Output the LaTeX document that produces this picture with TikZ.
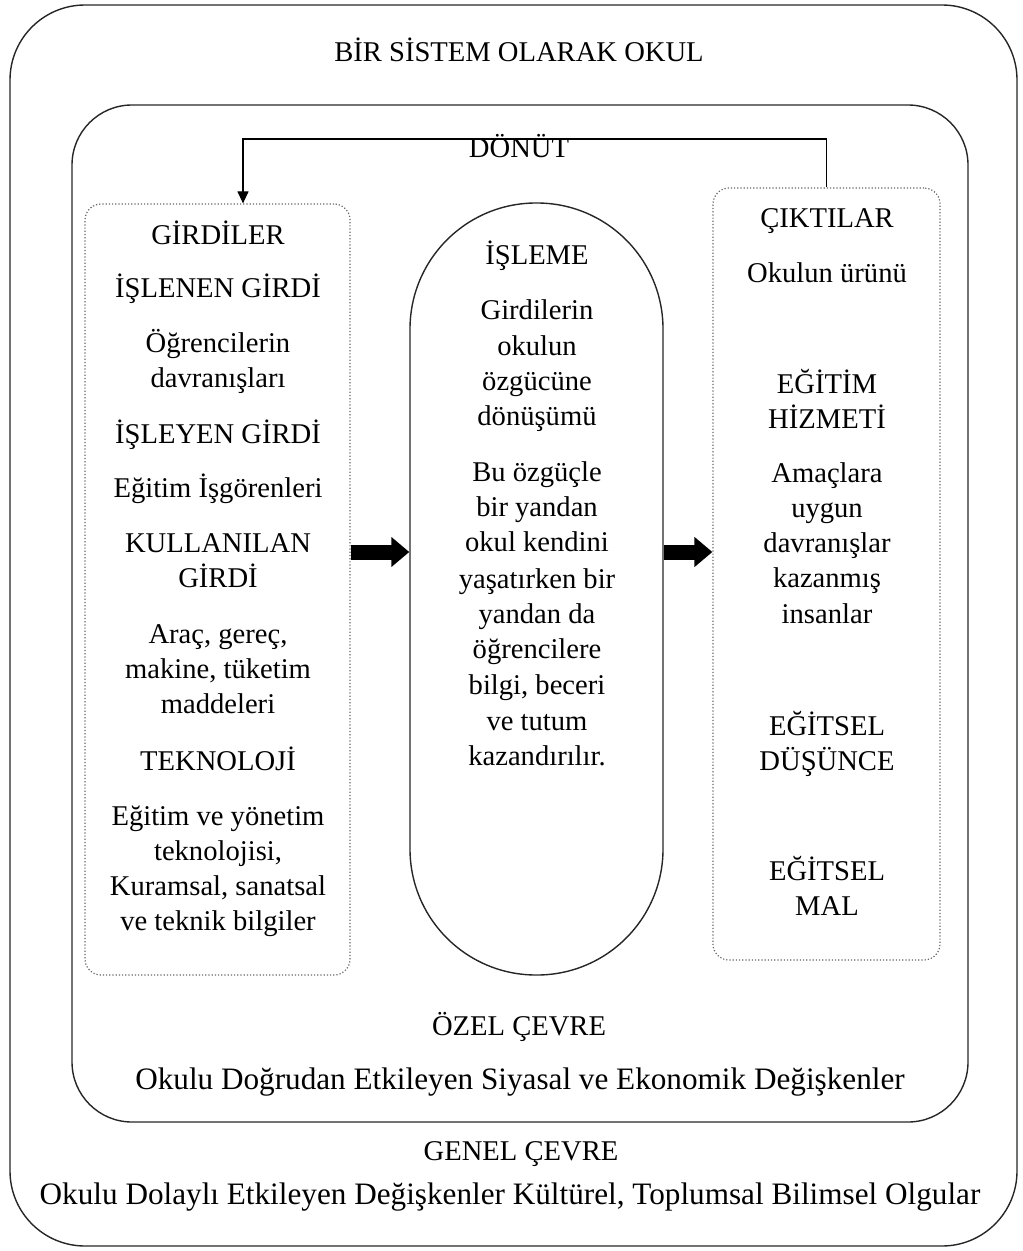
\documentclass[tikz,border=0pt]{standalone}
\usepackage{fontspec}
\setmainfont{Liberation Serif}
\usetikzlibrary{arrows.meta}

\begin{document}
\begin{tikzpicture}[x=0.5pt,y=-0.5pt,
  frame/.style={draw=black!85,line width=0.7pt},
  dotbox/.style={draw=black!60,densely dotted,line width=0.6pt,rounded corners=8pt},
  txt/.style={font=\fontsize{14.3}{17.5}\selectfont,anchor=base,inner sep=0pt},
  wide/.style={txt,font=\fontsize{15.6}{18}\selectfont},
  flow/.style={line width=7.5pt,-{Triangle[length=9pt,width=14.5pt]}},
  back/.style={line width=0.6pt,-{Triangle[length=6pt,width=5.5pt]}}]
  \useasboundingbox (0,0) rectangle (1022,1251);
  % frames
  \node[frame,rounded corners=37.5pt,minimum width=503.5pt,minimum height=620.5pt] (okul) at (513.5,625.5) {};
  \node[frame,rounded corners=30pt,minimum width=448pt,minimum height=508.5pt] (ozel) at (520,613.5) {};
  % the three parts
  \node[dotbox,minimum width=132.5pt,minimum height=385.5pt] (girdi) at (217.5,589.5) {};
  \node[frame,rounded corners=63pt,minimum width=126.5pt,minimum height=386pt] (isleme) at (536.5,589) {};
  \node[dotbox,minimum width=113.5pt,minimum height=386pt] (cikti) at (826.5,574) {};
  % flow arrows
  \coordinate (akis) at (0,552);
  \draw[flow] (girdi.east |- akis) -- (isleme.west |- akis);
  \draw[flow] (isleme.east |- akis) -- (cikti.west |- akis);
  % feedback
  \coordinate (donus) at (243,139);
  \draw[back] (cikti.north) |- (donus) -- (girdi.north -| donus);
  % texts
  \node[txt] (baslik) at (519,62) {BİR SİSTEM OLARAK OKUL};
  \node[txt] (donut) at (519,158) {DÖNÜT};
  \foreach \yy/\tx [count=\i] in {245/GİRDİLER, 298/İŞLENEN GİRDİ, 352/Öğrencilerin,
      387/davranışları, 443/İŞLEYEN GİRDİ, 497/Eğitim İşgörenleri, 552/KULLANILAN,
      587/GİRDİ, 643/{Araç, gereç,}, 678/{makine, tüketim}, 713/maddeleri, 770/TEKNOLOJİ,
      825/Eğitim ve yönetim, 860/{teknolojisi,}, 895/{Kuramsal, sanatsal}, 930/ve teknik bilgiler}
    \node[txt] (g\i) at (218,\yy) {\tx};
  \foreach \yy/\tx [count=\i] in {265/İŞLEME, 320/Girdilerin, 355/okulun, 390/özgücüne,
      425/dönüşümü, 481/Bu özgüçle, 516/bir yandan, 551/okul kendini, 588/yaşatırken bir,
      623/yandan da, 658/öğrencilere, 694/{bilgi, beceri}, 730/ve tutum, 765/kazandırılır.}
    \node[txt] (i\i) at (537,\yy) {\tx};
  \foreach \yy/\tx [count=\i] in {228/ÇIKTILAR, 283/Okulun ürünü, 393/EĞİTİM, 428/HİZMETİ,
      482/Amaçlara, 517/uygun, 552/davranışlar, 587/kazanmış, 623/insanlar,
      735/EĞİTSEL, 770/DÜŞÜNCE, 880/EĞİTSEL, 915/MAL}
    \node[txt] (c\i) at (827,\yy) {\tx};
  \node[txt] (ozelbaslik) at (519,1035) {ÖZEL ÇEVRE};
  \node[wide] (ozelmetin) at (520,1089) {Okulu Doğrudan Etkileyen Siyasal ve Ekonomik Değişkenler};
  \node[txt] (genelbaslik) at (521,1160) {GENEL ÇEVRE};
  \node[wide] (genelmetin) at (510,1204) {Okulu Dolaylı Etkileyen Değişkenler Kültürel, Toplumsal Bilimsel Olgular};
\end{tikzpicture}
\end{document}
